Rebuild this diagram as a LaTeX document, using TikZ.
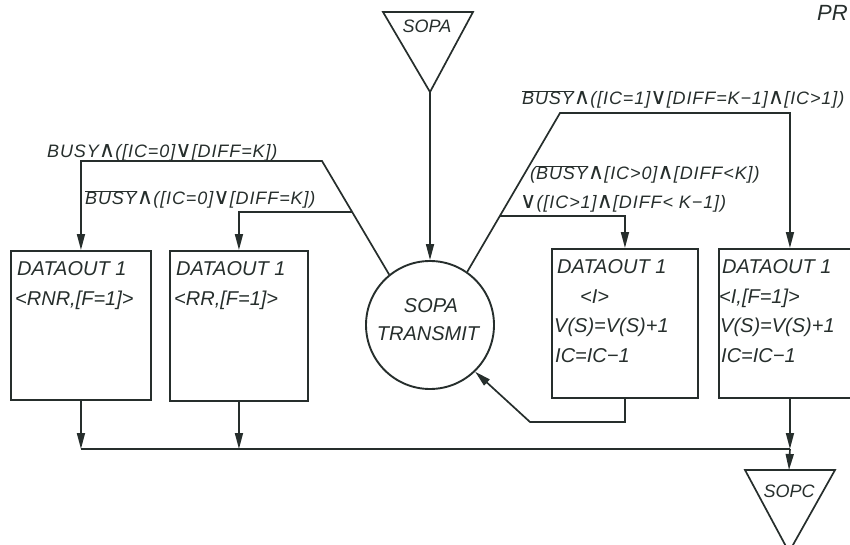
\documentclass[tikz,border=0pt]{standalone}
\usepackage{fontspec}
\setmainfont{Liberation Sans}
\newfontfamily\labfam[LetterSpace=5]{Liberation Sans}
\newfontfamily\symf[Scale=1.25]{DejaVu Sans}
\usetikzlibrary{arrows.meta}
\definecolor{ink}{RGB}{38,46,44}
\newcommand{\lAND}{{\symf ∧}}
\newcommand{\lOR}{{\symf ∨}}
\newcommand{\nBUSY}{$\overline{\mbox{BUSY}}$}
\newcommand{\labfont}{\labfam\fontsize{18}{18}\selectfont\itshape}
\tikzset{
  ln/.style={draw=ink, line width=1.7pt},
  arr/.style={ln, -{Triangle[length=16pt,width=8pt]}},
  boxn/.style={draw=ink, line width=1.9pt, rectangle, inner sep=0pt, anchor=north west},
  btxt/.style={anchor=base west, inner sep=0pt, font=\fontsize{20}{20}\selectfont\itshape, text=ink},
  ctxt/.style={anchor=base, inner sep=0pt, font=\fontsize{20}{20}\selectfont\itshape, text=ink},
  ttxt/.style={anchor=base, inner sep=0pt, font=\fontsize{18}{18}\selectfont\itshape, text=ink},
  lbl/.style={anchor=base west, inner sep=0pt, font=\labfont, text=ink},
}
\begin{document}
\begin{tikzpicture}[x=1pt,y=-1pt]
\useasboundingbox (0,0) rectangle (850,545);

% title fragment
\node[anchor=base west, inner sep=0pt, font=\fontsize{22}{22}\selectfont\itshape, text=ink] (pr) at (817,21) {PR};

% SOPA triangle
\draw[ln] (383,12) -- (473,12) -- (430,92) -- cycle;
\coordinate (sopaapex) at (430,92);
\node[ttxt] (sopa) at (427,33) {SOPA};

% circle
\node[draw=ink, line width=1.9pt, circle, minimum size=128pt, inner sep=0pt] (c) at (430,325) {};
\node[ctxt] (c1) at (431,312) {SOPA};
\node[ctxt] (c2) at (428,340) {TRANSMIT};

% boxes
\node[boxn, minimum width=140pt, minimum height=149pt] (b1) at (10,250) {};
\node[boxn, minimum width=138pt, minimum height=150pt] (b2) at (169,250) {};
\node[boxn, minimum width=146pt, minimum height=149pt] (b3) at (551,248) {};
\node[boxn, minimum width=142pt, minimum height=149pt] (b4) at (718,248) {};

% box texts
\node[btxt] (t11) at (17,275) {DATAOUT 1};
\node[btxt] (t12) at (15,305) {<RNR,[F=1]>};
\node[btxt] (t21) at (176,275) {DATAOUT 1};
\node[btxt] (t22) at (174,305) {<RR,[F=1]>};
\node[btxt] (t31) at (557,273) {DATAOUT 1};
\node[btxt] (t32) at (580,303) {<I>};
\node[btxt] (t33) at (554,332) {V(S)=V(S)+1};
\node[btxt] (t34) at (555,362) {IC=IC−1};
\node[btxt] (t41) at (722,273) {DATAOUT 1};
\node[btxt] (t42) at (719,303) {<I,[F=1]>};
\node[btxt] (t43) at (720,332) {V(S)=V(S)+1};
\node[btxt] (t44) at (721,362) {IC=IC−1};

% condition labels
\node[lbl] (l1) at (47,158) {BUSY\lAND([IC=0]\lOR[DIFF=K])};
\node[lbl] (l2) at (85,205) {\nBUSY\lAND([IC=0]\lOR[DIFF=K])};
\node[lbl] (l3) at (522,105) {\nBUSY\lAND([IC=1]\lOR[DIFF=K−1]\lAND[IC>1])};
\node[lbl] (l4) at (530,180) {(\nBUSY\lAND[IC>0]\lAND[DIFF<K])};
\node[lbl] (l5) at (520,209) {\lOR([IC>1]\lAND[DIFF< K−1])};

% input from SOPA
\draw[arr] (sopaapex) -- (c.north);

% left branches
\coordinate (cL) at (322,161);
\draw[arr] (c.129) -- (cL) -| (b1.north);
\coordinate (bL) at (intersection of c.129--cL and 200,212--300,212);
\draw[arr] (bL) -| (b2.north);

% right branches
\coordinate (cR) at (560,113);
\draw[arr] (c.55) -- (cR) -| (b4.north);
\coordinate (bR) at (intersection of c.55--cR and 600,216--700,216);
\draw[arr] (bR) -| (b3.north);

% loop back from box 3
\coordinate (k) at (530,422);
\draw[arr] (b3.south) |- (k) -- (c.-46);

% bottom bus
\coordinate (bus) at (0,449);
\draw[ln] (b1.south |- bus) -- (b4.south |- bus);
\draw[arr] (b1.south) -- (b1.south |- bus);
\draw[arr] (b2.south) -- (b2.south |- bus);
\draw[arr] (b4.south) -- (b4.south |- bus);

% SOPC triangle
\draw[ln] (745,470) -- (835,470) -- (789,552) -- cycle;
\coordinate (sopctop) at (789,470);
\node[ttxt] (sopc) at (789,497) {SOPC};
\draw[arr] (b4.south |- bus) -- (sopctop);
\end{tikzpicture}
\end{document}
